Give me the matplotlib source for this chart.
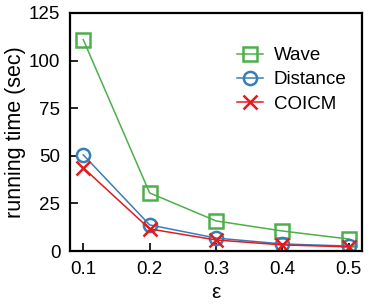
import numpy as np
import matplotlib
matplotlib.use("Agg")
import matplotlib.pyplot as plt

plt.rcParams['font.family'] = ['Liberation Sans', 'DejaVu Sans']

# ----- DATA -----
eps = [0.1, 0.2, 0.3, 0.4, 0.5]
wave = [111.0, 30.5, 15.8, 10.5, 6.3]
distance = [50.5, 13.7, 6.8, 3.7, 2.6]
coicm = [43.7, 11.6, 5.8, 3.2, 2.2]

green = "#4daf4a"
blue = "#377eb8"
red = "#e41a1c"

fig = plt.figure(figsize=(3.74, 3.06), dpi=100)
ax = fig.add_axes([70 / 374, 1 - 251 / 306, 292 / 374, 238 / 306])

ax.plot(eps, wave, color=green, lw=1.1, marker="s", ms=9.5, mfc="none",
        mew=1.8, label="Wave")
ax.plot(eps, distance, color=blue, lw=1.1, marker="o", ms=9.5, mfc="none",
        mew=1.8, label="Distance")
ax.plot(eps, coicm, color=red, lw=1.1, marker="x", ms=9.5, mew=1.8,
        label="COICM")

ax.set_xlim(0.08, 0.52)
ax.set_ylim(0, 125)
ax.set_xticks(eps)
ax.set_xticklabels(["0.1", "0.2", "0.3", "0.4", "0.5"])
ax.set_yticks([0, 25, 50, 75, 100, 125])
ax.tick_params(direction="in", length=5.5, width=1.2, labelsize=13.5, pad=7)
for s in ax.spines.values():
    s.set_linewidth(1.6)

ax.set_xlabel("ε", fontsize=15, labelpad=3.5)
ax.set_ylabel("running time (sec)", fontsize=15.5, labelpad=2)

ax.legend(loc="upper left", bbox_to_anchor=(237 / 374, 1 - 47 / 306),
          bbox_transform=fig.transFigure, frameon=False, fontsize=13.5,
          handlelength=1.4, handletextpad=0.55, labelspacing=0.38,
          borderpad=0, borderaxespad=0)

plt.savefig("out.png", dpi=100)
